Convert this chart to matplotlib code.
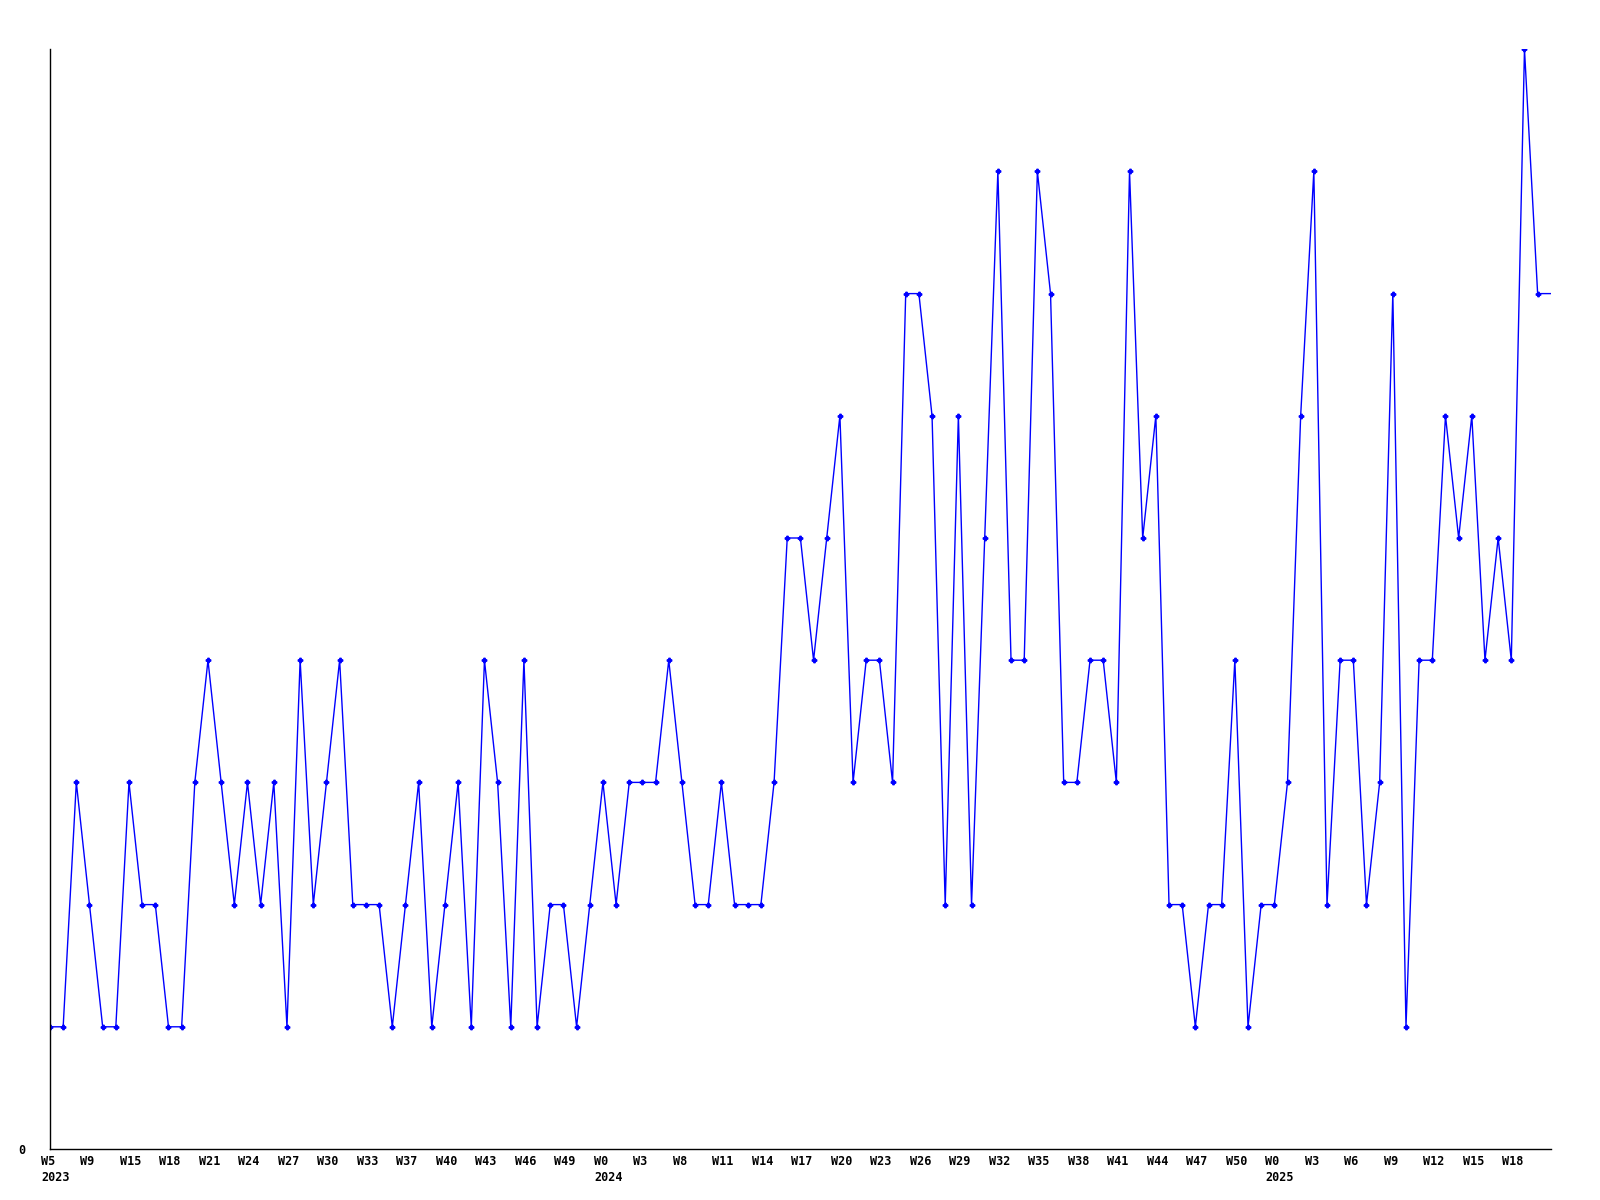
#!/usr/bin/env python3

import matplotlib
matplotlib.use('Agg')
import matplotlib.pyplot as plt
import matplotlib.transforms as mtrans

# weekly counts, one value per week (last value runs to the edge of the axis)
counts = [1, 1, 3, 2, 1, 1, 3, 2, 2, 1,
          1, 3, 4, 3, 2, 3, 2, 3, 1, 4,
          2, 3, 4, 2, 2, 2, 1, 2, 3, 1,
          2, 3, 1, 4, 3, 1, 4, 1, 2, 2,
          1, 2, 3, 2, 3, 3, 3, 4, 3, 2,
          2, 3, 2, 2, 2, 3, 5, 5, 4, 5,
          6, 3, 4, 4, 3, 7, 7, 6, 2, 6,
          2, 5, 8, 4, 4, 8, 7, 3, 3, 4,
          4, 3, 8, 5, 6, 2, 2, 1, 2, 2,
          4, 1, 2, 2, 3, 6, 8, 2, 4, 4,
          2, 3, 7, 1, 4, 4, 6, 5, 6, 4,
          5, 4, 9, 7, 7]

tick_labels = ['W5\n2023', 'W9', 'W15', 'W18', 'W21', 'W24', 'W27', 'W30', 'W33',
               'W37', 'W40', 'W43', 'W46', 'W49', 'W0\n2024', 'W3', 'W8', 'W11',
               'W14', 'W17', 'W20', 'W23', 'W26', 'W29', 'W32', 'W35', 'W38',
               'W41', 'W44', 'W47', 'W50', 'W0\n2025', 'W3', 'W6', 'W9', 'W12',
               'W15', 'W18']

x = list(range(len(counts)))
n_marked = len(counts) - 1

fig = plt.figure(figsize=(16, 12), dpi=100)
ax = fig.add_axes([0.03125, 0.0425, 0.938, 0.9165])

ax.plot(x, counts, color='#0000ff', linewidth=1.0,
        marker='P', markersize=3.2, markevery=list(range(n_marked)),
        clip_on=True)

ax.set_xlim(0, len(counts) - 1)
ax.set_ylim(0, 9)

for side in ['top', 'right']:
    ax.spines[side].set_visible(False)
for side in ['left', 'bottom']:
    ax.spines[side].set_color('black')
    ax.spines[side].set_linewidth(1.0)

ax.tick_params(axis='both', length=0)
ax.tick_params(axis='x', pad=4)
ax.tick_params(axis='y', pad=18)

ax.set_xticks(range(0, 3 * len(tick_labels), 3))
ax.set_xticklabels(tick_labels, family='DejaVu Sans Mono', fontweight='bold',
                   fontsize=8.5, ha='left', linespacing=1.3)
ax.set_yticks([0])
ax.set_yticklabels(['0'], family='DejaVu Sans Mono', fontweight='bold', fontsize=8.5)

# labels start a little left of their tick, like the original
offset = mtrans.ScaledTranslation(-9 / 100, 0, fig.dpi_scale_trans)
for lbl in ax.get_xticklabels():
    lbl.set_transform(lbl.get_transform() + offset)

plt.savefig('out.png', dpi=100)
